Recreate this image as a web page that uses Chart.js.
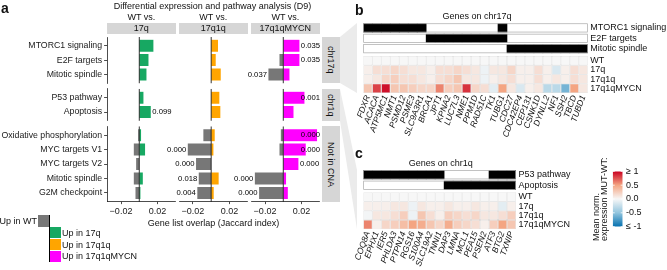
<!DOCTYPE html>
<html>
<head>
<meta charset="utf-8">
<script src="https://cdn.jsdelivr.net/npm/chart.js@4.4.0/dist/chart.umd.min.js"></script>
<style>
  html, body { margin: 0; padding: 0; background: #fff; }
  body { width: 667px; height: 270px; position: relative; overflow: hidden;
         font-family: "Liberation Sans", Arial, sans-serif; color: #111; }
  canvas { position: absolute; }
  .txt { position: absolute; white-space: nowrap; line-height: 1; }
  .strip { position: absolute; background: #d6d6d6; }
  .vstrip { position: absolute; background: #d6d6d6; writing-mode: vertical-rl;
            display: flex; align-items: center; justify-content: center; font-size: 9px; }
  .key { position: absolute; }
</style>
</head>
<body>
<svg width="667" height="270" style="position:absolute;left:0;top:0">
  <polygon points="340,37 357,23 357,93 340,83" fill="#ebebeb"/>
  <polygon points="340,89 357,170 357,229 340,121" fill="#ebebeb"/>
</svg>
<script>
// ---- panel a: pathway overlap ----
const pathways = ['MTORC1 signaling', 'E2F targets', 'Mitotic spindle', 'P53 pathway', 'Apoptosis',
  'Oxidative phosphorylation', 'MYC targets V1', 'MYC targets V2', 'Mitotic spindle', 'G2M checkpoint'];
const pathwayGroup = ['chr17q', 'chr17q', 'chr17q', 'chr1q', 'chr1q',
  'Not in CNA', 'Not in CNA', 'Not in CNA', 'Not in CNA', 'Not in CNA'];
const groups = ['chr17q', 'chr1q', 'Not in CNA'];
const comparisons = ['17q', '17q1q', '17q1qMYCN'];

// "Up in WT" plotted to the left (negative), "Up in mutant" to the right
const wt17q = [0, 0, 0, 0, 0, -0.0018, -0.0066, -0.004, -0.0066, -0.0047];
const mut17q = [0.016, 0.0106, 0.0084, 0.0051, 0.0131, 0.0025, 0.0069, 0, 0.0044, 0.0018];
const p17q = [null, null, null, null, '0.099', null, null, null, null, null];

const wt17q1q = [0, 0, 0, 0, 0, -0.0091, -0.0262, -0.0171, -0.0142, -0.0157];
const mut17q1q = [0.008, 0.0055, 0.011, 0.0095, 0.0106, 0.0044, 0.003, 0, 0.0087, 0.0033];
const p17q1q = [null, null, null, null, null, null, '0.000', '0.000', '0.018', '0.004'];

const wtMYCN = [0, -0.0047, -0.0168, 0, 0, -0.0033, -0.0047, 0, -0.0317, -0.027];
const mutMYCN = [0.0182, 0.0182, 0.0073, 0.0237, 0.0117, 0.0375, 0.0251, 0.0171, 0.0036, 0.0055];
const pMYCN = ['0.035', '0.035', '0.037', '0.001', null, '0.000', '0.000', '0.000', '0.000', '0.000'];

const xTicks = [-0.02, 0.02];

// ---- panel b / c: heatmaps ----
const genes17q = ['FDXR', 'ACACA', 'ATP5MC1', 'NMT1', 'PSMD12', 'PSME3', 'SLC9A3R1', 'BRCA1', 'JPT1',
  'KPNA2', 'LUC7L3', 'NME1', 'PPM1D', 'RAD51C', 'TK1', 'TUBG1', 'CDC27', 'CDC42EP4', 'CEP131',
  'CSNK1D', 'DYNLL2', 'NF1', 'SSH2', 'TBCD', 'TUBD1'];
const inMTORC1 = [1, 1, 1, 1, 1, 1, 1, 0, 0, 0, 0, 0, 0, 0, 0, 1, 0, 0, 0, 0, 0, 0, 0, 0, 0];
const inE2F = [0, 0, 0, 0, 0, 0, 0, 1, 1, 1, 1, 1, 1, 1, 1, 1, 0, 0, 0, 0, 0, 0, 0, 0, 0];
const inMitotic = [0, 0, 0, 0, 0, 0, 0, 0, 0, 0, 0, 0, 0, 0, 0, 0, 1, 1, 1, 1, 1, 1, 1, 1, 1];
const exp17q_WT = [0, 0, 0, 0, 0, 0, 0, 0, 0, 0, 0, 0, 0, 0, 0, 0, 0, 0, 0, 0, 0, 0, 0, 0, 0];
const exp17q_17q = [0.05, 0.15, 0.15, 0.2, 0.15, 0.1, 0.1, 0.05, 0.15, 0.15, 0.2, 0.15, 0.1, -0.05, 0.1,
  0.1, 0.2, 0.05, 0.05, 0.15, 0.05, -0.15, 0.05, 0.15, 0.1];
const exp17q_17q1q = [0.05, 0.1, 0.2, 0.25, 0.15, 0.15, 0.1, 0.05, 0.15, 0.2, 0.3, 0.1, 0.1, -0.05, 0.05,
  0.1, 0.15, 0.05, 0.05, 0.15, 0.05, 0.1, 0.05, 0.15, 0.1];
const exp17q_MYCN = [0.3, 0.8, 0.95, 0.3, 0.3, 0.25, 0.2, 0.2, 0.6, 0.25, 0.3, 0.85, 0.2, 0.15, -0.1,
  0.5, 0.1, -0.15, 0.05, 0.1, -0.3, -0.3, -0.6, 0.5, 0.1];

const genes1q = ['COQ8A', 'EPHX1', 'IER5', 'PHLDA3', 'PTPN14', 'RGS16', 'S100A4', 'SLC19A2', 'TNNI1',
  'DAP3', 'LMNA', 'MCL1', 'PEA15', 'PSEN2', 'ATF3', 'BTG2', 'TXNIP'];
const inP53 = [1, 1, 1, 1, 1, 1, 1, 1, 1, 0, 0, 0, 0, 0, 1, 1, 1];
const inApoptosis = [0, 0, 0, 0, 0, 0, 0, 0, 0, 1, 1, 1, 1, 1, 1, 1, 1];
const exp1q_WT = [0, 0, 0, 0, 0, 0, 0, 0, 0, 0, 0, 0, 0, 0, 0, 0, 0];
const exp1q_17q = [0.05, 0.05, 0.05, 0.1, 0.1, -0.05, 0.1, 0.05, 0.05, 0.1, 0.05, 0.05, 0.1, 0.05, 0.05, -0.1, 0.05];
const exp1q_17q1q = [-0.02, 0.1, 0.1, 0.15, 0.25, -0.05, 0.3, 0.15, 0.05, 0.25, 0.2, 0.15, 0.2, 0.1, 0.1, 0.15, 0.25];
const exp1q_MYCN = [0.6, 0.05, 0.2, 0.25, 0.35, 0.5, 0.45, 0.3, 0.2, 0.45, 0.25, 0.2, 0.15, 0.05, 0.25, 0.5, 0.3];

const sampleRows = ['WT', '17q', '17q1q', '17q1qMYCN'];
const colorbarTicks = [-1, -0.5, 0, 0.5, 1];
const colorbarLabels = ['≤ -1', '-0.5', '0.0', '0.5', '≥ 1'];

// ---- styling ----
const FONT = '"Liberation Sans", Arial, sans-serif';
const wtColor = '#777777';
const mutColors = ['#17a862', '#ffa500', '#ff00ff'];
const fillStops = [[-1, [5, 113, 176]], [-0.5, [146, 197, 222]], [0, [247, 247, 247]],
  [0.5, [244, 165, 130]], [1, [202, 0, 32]]];

Chart.defaults.font.family = FONT;
Chart.defaults.font.size = 9;
Chart.defaults.color = '#111';
Chart.defaults.animation = false;
Chart.defaults.events = [];
Chart.defaults.plugins.legend.display = false;
Chart.defaults.plugins.tooltip.enabled = false;

function fillFor(v) {
  v = Math.max(-1, Math.min(1, v));
  for (let i = 1; i < fillStops.length; i++) {
    const [v0, c0] = fillStops[i - 1], [v1, c1] = fillStops[i];
    if (v <= v1) {
      const t = (v - v0) / (v1 - v0);
      const c = c0.map((a, k) => Math.round(a + (c1[k] - a) * t));
      return `rgb(${c[0]},${c[1]},${c[2]})`;
    }
  }
}

function makeCanvas(area, out, axes) {
  const L = Math.floor(area.l - out.l), T = Math.floor(area.t - out.t);
  const R = Math.ceil(area.r + out.r), B = Math.ceil(area.b + out.b);
  const c = document.createElement('canvas');
  c.width = R - L; c.height = B - T;
  Object.assign(c.style, {left: L + 'px', top: T + 'px', width: (R - L) + 'px', height: (B - T) + 'px'});
  document.body.appendChild(c);
  return {
    ctx: c.getContext('2d'),
    padding: {
      left: area.l - L - (axes.l || 0),
      right: R - area.r - (axes.r || 0),
      top: area.t - T - (axes.t || 0),
      bottom: B - area.b - (axes.b || 0)
    }
  };
}

function fixSize(size) {
  return axis => {
    if (axis.isHorizontal()) axis.height = size; else axis.width = size;
    axis.paddingTop = axis.paddingBottom = axis.paddingLeft = axis.paddingRight = 0;
  };
}

function addText(txt, x, y, o = {}) {
  const d = document.createElement('div');
  d.className = 'txt';
  d.textContent = txt;
  const ax = o.align === 'left' ? '0' : o.align === 'right' ? '-100%' : '-50%';
  Object.assign(d.style, {
    left: x + 'px', top: y + 'px', fontSize: (o.size || 9) + 'px',
    fontWeight: o.bold ? 'bold' : 'normal', transform: `translate(${ax}, -50%)`
  });
  document.body.appendChild(d);
  return d;
}

function addBox(cls, l, t, w, h, bg) {
  const d = document.createElement('div');
  d.className = cls;
  Object.assign(d.style, {left: l + 'px', top: t + 'px', width: w + 'px', height: h + 'px'});
  if (bg) d.style.background = bg;
  document.body.appendChild(d);
  return d;
}

// ---- panel a ----
const wtSeries = [wt17q, wt17q1q, wtMYCN];
const mutSeries = [mut17q, mut17q1q, mutMYCN];
const pSeries = [p17q, p17q1q, pMYCN];

const facetLeft = [107.1, 179.0, 251.1];
const facetW = 68.5;
const xMin = -0.0352, xMax = 0.0397;
const rowStep = 14.45, panelGap = 5.73;

function zeroAndLabels(rows) {
  return {
    id: 'zeroAndLabels',
    afterDatasetsDraw(chart) {
      const {ctx, chartArea: a, scales: {x, y}} = chart;
      const x0 = x.getPixelForValue(0);
      ctx.save();
      ctx.strokeStyle = '#000';
      ctx.lineWidth = 0.8;
      ctx.beginPath(); ctx.moveTo(x0, a.top); ctx.lineTo(x0, a.bottom); ctx.stroke();
      ctx.font = `7.7px ${FONT}`;
      ctx.fillStyle = '#000';
      ctx.textBaseline = 'middle';
      rows.forEach((r, k) => {
        if (!r.p) return;
        const py = y.getPixelForValue(k);
        if (Math.abs(r.wt) > Math.abs(r.mut)) {
          ctx.textAlign = 'right';
          ctx.fillText(r.p, x.getPixelForValue(r.wt) - 1, py);
        } else {
          ctx.textAlign = 'left';
          const w = ctx.measureText(r.p).width;
          ctx.fillText(r.p, Math.min(x.getPixelForValue(r.mut) + 1, a.right + 0.5 - w), py);
        }
      });
      ctx.restore();
    }
  };
}

let panelTop = 37.0;
const panels = groups.map(g => {
  const idx = pathways.map((p, i) => i).filter(i => pathwayGroup[i] === g);
  const t = panelTop;
  const b = t + (idx.length + 0.2) * rowStep;
  panelTop = b + panelGap;
  return {g, idx, t, b};
});

panels.forEach((pan, gi) => {
  // facet strip on the right
  const s = addBox('vstrip', 321.5, pan.t, 18, pan.b - pan.t);
  s.textContent = pan.g;

  comparisons.forEach((cmp, f) => {
    const isLeft = f === 0, isBottom = gi === groups.length - 1;
    const area = {l: facetLeft[f], r: facetLeft[f] + facetW, t: pan.t, b: pan.b};
    const {ctx, padding} = makeCanvas(area,
      {l: isLeft ? area.l : 45, r: 2, t: 2, b: isBottom ? 17 : 2},
      {l: isLeft ? area.l : 0, b: isBottom ? 14 : 0});
    const rows = pan.idx.map(i => ({wt: wtSeries[f][i], mut: mutSeries[f][i], p: pSeries[f][i]}));
    const n = rows.length;

    // WT and mutant bars share one row position: one dataset, coloured per bar
    const bars = [];
    rows.forEach((r, k) => {
      if (r.wt) bars.push({x: r.wt, y: k, c: wtColor});
      if (r.mut) bars.push({x: r.mut, y: k, c: mutColors[f]});
    });

    new Chart(ctx, {
      type: 'bar',
      data: {
        datasets: [{
          label: 'Up in WT vs. up in ' + cmp,
          data: bars.map(b => ({x: b.x, y: b.y})),
          backgroundColor: bars.map(b => b.c),
          categoryPercentage: 0.9, barPercentage: 1,
          borderColor: 'rgba(255,255,255,0.7)', borderWidth: 0.5, inflateAmount: 0
        }]
      },
      options: {
        indexAxis: 'y',
        responsive: false,
        layout: {padding},
        scales: {
          x: {
            type: 'linear', min: xMin, max: xMax, bounds: 'data',
            display: isBottom,
            afterBuildTicks: ax => { ax.ticks = xTicks.map(v => ({value: v})); },
            ticks: {callback: v => (v < 0 ? '\u2212' : '') + Math.abs(v).toFixed(2), padding: 2, color: '#1a1a1a'},
            grid: {drawOnChartArea: false, tickLength: 2.5, color: '#000', lineWidth: 0.7},
            border: {color: '#000', width: 0.7},
            afterFit: fixSize(isBottom ? 14 : 0)
          },
          y: {
            type: 'linear', reverse: true, offset: false, min: -0.6, max: n - 0.4, bounds: 'data',
            display: isLeft,
            afterBuildTicks: ax => { ax.ticks = rows.map((r, k) => ({value: k})); },
            ticks: {callback: v => pathways[pan.idx[v]], padding: 2, color: '#1a1a1a', autoSkip: false,
              font: {size: 8.75}},
            grid: {offset: false, drawOnChartArea: false, tickLength: 3, color: '#000', lineWidth: 0.7},
            border: {color: '#000', width: 0.7},
            afterFit: fixSize(isLeft ? area.l : 0)
          }
        }
      },
      plugins: [zeroAndLabels(rows)]
    });
  });
});

// top facet strips
comparisons.forEach((cmp, f) => {
  addBox('strip', facetLeft[f], 23, facetW, 10.5);
  addText('WT vs.', facetLeft[f] + facetW / 2, 16.5);
  addText(cmp, facetLeft[f] + facetW / 2, 28.4);
});
addText('a', 1, 8, {size: 14, bold: true, align: 'left'});
addText('Differential expression and pathway analysis (D9)', 212.5, 5.5);
addText('Gene list overlap (Jaccard index)', 213.5, 222.5);

// colour key for panel a
addText('Up in WT', 37, 221, {align: 'right'});
addBox('key', 38.3, 215, 11, 11.7, wtColor);
addBox('key', 49.2, 214.5, 1, 47.5, '#000');
['Up in 17q', 'Up in 17q1q', 'Up in 17q1qMYCN'].forEach((t, k) => {
  addBox('key', 50.2, 227.3 + k * 11.6, 10.6, 11.2, mutColors[k]);
  addText(t, 62, 233 + k * 11.6, {align: 'left'});
});

// ---- panels b and c ----
const cellW = 8.98;

function outlinePlugin() {
  return {
    id: 'outline',
    afterDatasetsDraw(chart) {
      const {ctx, chartArea: a} = chart;
      ctx.save();
      ctx.strokeStyle = '#a9a9a9';
      ctx.lineWidth = 0.7;
      ctx.strokeRect(a.left + 0.35, a.top + 0.35, a.right - a.left - 0.7, a.bottom - a.top - 0.7);
      ctx.restore();
    }
  };
}

function drawAnnotation(genes, name, member, top, rightW) {
  const area = {l: 363.3, r: 363.3 + genes.length * cellW, t: top, b: top + 9};
  const {ctx, padding} = makeCanvas(area, {l: 2, r: rightW, t: 2, b: 2}, {r: rightW});
  new Chart(ctx, {
    type: 'bar',
    data: {
      labels: genes,
      datasets: [{data: member.map(m => m || null), backgroundColor: '#000', borderWidth: 0,
        categoryPercentage: 1, barPercentage: 1}]
    },
    options: {
      responsive: false,
      layout: {padding},
      scales: {
        x: {display: false, afterFit: fixSize(0)},
        y: {display: false, min: 0, max: 1, afterFit: fixSize(0)},
        yRows: {type: 'category', position: 'right', labels: [name], offset: true,
          grid: {display: false, drawTicks: false}, border: {display: false},
          ticks: {padding: 2.5, color: '#111', autoSkip: false}, afterFit: fixSize(rightW)}
      }
    },
    plugins: [outlinePlugin()]
  });
}

function drawHeatmap(genes, rowValues, top, rightW, bottomH) {
  const area = {l: 363.3, r: 363.3 + genes.length * cellW, t: top, b: top + 37};
  const {ctx, padding} = makeCanvas(area, {l: 25, r: rightW, t: 2, b: bottomH}, {r: rightW, b: bottomH});
  new Chart(ctx, {
    type: 'bar',
    data: {
      labels: genes,
      datasets: rowValues.map((vals, r) => ({
        label: sampleRows[r],
        data: vals.map(() => 1),
        backgroundColor: vals.map(fillFor),
        borderColor: '#cccccc', borderWidth: 0.5, borderSkipped: false, inflateAmount: 0,
        categoryPercentage: 1, barPercentage: 1
      }))
    },
    options: {
      responsive: false,
      layout: {padding},
      scales: {
        x: {stacked: true, grid: {display: false, drawTicks: false}, border: {display: false},
          ticks: {autoSkip: false, minRotation: 70, maxRotation: 70, padding: 1,
            font: {size: 8.5, style: 'italic'}, color: '#111'},
          afterFit: fixSize(bottomH)},
        y: {stacked: true, reverse: true, min: 0, max: sampleRows.length, display: false, afterFit: fixSize(0)},
        yRows: {type: 'category', position: 'right', labels: sampleRows, offset: true,
          grid: {display: false, drawTicks: false}, border: {display: false},
          ticks: {padding: 2.5, color: '#111', autoSkip: false}, afterFit: fixSize(rightW)}
      }
    }
  });
}

// panel b
const rightB = 667 - (363.3 + genes17q.length * cellW);
drawAnnotation(genes17q, 'MTORC1 signaling', inMTORC1, 23.4, rightB);
drawAnnotation(genes17q, 'E2F targets', inE2F, 33.8, rightB);
drawAnnotation(genes17q, 'Mitotic spindle', inMitotic, 44.2, rightB);
drawHeatmap(genes17q, [exp17q_WT, exp17q_17q, exp17q_17q1q, exp17q_MYCN], 56, rightB, 50);
addText('b', 355, 10, {size: 14, bold: true, align: 'left'});
addText('Genes on chr17q', 477, 15.5);

// panel c
const rightC = 600 - (363.3 + genes1q.length * cellW);
drawAnnotation(genes1q, 'P53 pathway', inP53, 170.3, rightC);
drawAnnotation(genes1q, 'Apoptosis', inApoptosis, 180.7, rightC);
drawHeatmap(genes1q, [exp1q_WT, exp1q_17q, exp1q_17q1q, exp1q_MYCN], 192.2, rightC, 40);
addText('c', 355, 153, {size: 14, bold: true, align: 'left'});
addText('Genes on chr1q', 440.8, 163.4);

// colour bar
(function () {
  const area = {l: 612.7, r: 622.7, t: 170, b: 228};
  const rightW = 667 - area.r;
  const {ctx, padding} = makeCanvas(area, {l: 6, r: rightW, t: 4, b: 4}, {r: rightW});
  new Chart(ctx, {
    type: 'bar',
    data: {
      labels: [''],
      datasets: [{
        data: [[colorbarTicks[0], colorbarTicks[colorbarTicks.length - 1]]],
        categoryPercentage: 1, barPercentage: 1, borderWidth: 0, inflateAmount: 0,
        backgroundColor: c => {
          const {chart} = c;
          if (!chart.chartArea) return '#f7f7f7';
          const y = chart.scales.y;
          const g = chart.ctx.createLinearGradient(0, y.getPixelForValue(-1), 0, y.getPixelForValue(1));
          fillStops.forEach(([v]) => g.addColorStop((v + 1) / 2, fillFor(v)));
          return g;
        }
      }]
    },
    options: {
      responsive: false,
      layout: {padding},
      scales: {
        x: {display: false, afterFit: fixSize(0)},
        y: {min: -1.05, max: 1.05, position: 'right', bounds: 'data',
          afterBuildTicks: ax => { ax.ticks = colorbarTicks.map(v => ({value: v})); },
          ticks: {callback: v => colorbarLabels[colorbarTicks.indexOf(v)], padding: 3.3, color: '#111', autoSkip: false},
          grid: {display: false, drawTicks: false}, border: {display: false},
          afterFit: fixSize(rightW)}
      }
    },
    plugins: [{
      id: 'barTicks',
      afterDatasetsDraw(chart) {
        const {ctx, chartArea: a, scales: {y}} = chart;
        ctx.save();
        ctx.strokeStyle = '#fff';
        ctx.lineWidth = 0.8;
        colorbarTicks.forEach(v => {
          const py = y.getPixelForValue(v);
          ctx.beginPath();
          ctx.moveTo(a.left, py); ctx.lineTo(a.left + 2, py);
          ctx.moveTo(a.right - 2, py); ctx.lineTo(a.right, py);
          ctx.stroke();
        });
        ctx.restore();
      }
    }]
  });
  const t = document.createElement('div');
  t.className = 'txt';
  t.innerHTML = 'Mean norm.<br>expression MUT-WT:';
  Object.assign(t.style, {left: '592px', top: '241px', fontSize: '9px', lineHeight: '8px',
    transformOrigin: '0 0', transform: 'rotate(-90deg)'});
  document.body.appendChild(t);
})();
</script>
</body>
</html>
